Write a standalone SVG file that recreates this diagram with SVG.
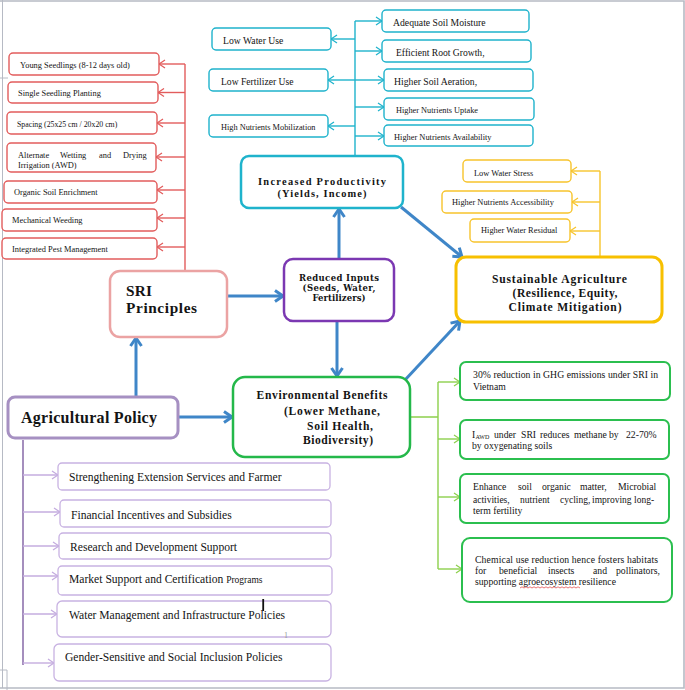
<svg xmlns="http://www.w3.org/2000/svg" width="685" height="690" viewBox="0 0 685 690">
<style>
.bg{fill:#fff}
.rb{fill:#fff;stroke:#e25c5c;stroke-width:1.4}
.cb{fill:#fff;stroke:#1fb3cc;stroke-width:1.4}
.yb{fill:#fff;stroke:#f7c42c;stroke-width:1.4}
.gb{fill:#fff;stroke:#2bbf4f;stroke-width:2}
.pb{fill:#fff;stroke:#c8b2e2;stroke-width:1.3}
.t{font-family:"Liberation Serif","Times New Roman",serif;fill:#141414}
.tb{font-family:"Liberation Serif","Times New Roman",serif;font-weight:bold;fill:#141414}
.td{font-family:"DejaVu Serif","Liberation Serif",serif;font-weight:bold;fill:#141414}
.rl{stroke:#e25c5c;stroke-width:1.4;fill:none}
.cl{stroke:#1fb3cc;stroke-width:1.4;fill:none}
.yl{stroke:#f7c42c;stroke-width:1.4;fill:none}
.gl{stroke:#8dd04c;stroke-width:1.4;fill:none}
.pl{stroke:#c4acdf;stroke-width:1.4;fill:none}
.bl{stroke:#3f86c8;stroke-width:3;fill:none}
.fr{stroke:#b6bac4;fill:none}
</style>
<defs>
<marker id="mR" markerUnits="userSpaceOnUse" viewBox="0 0 8 10" markerWidth="8" markerHeight="10" refX="7" refY="5" orient="auto"><path d="M1,1 L7,5 L1,9" fill="none" stroke="#e25c5c" stroke-width="1.3"/></marker>
<marker id="mC" markerUnits="userSpaceOnUse" viewBox="0 0 8 10" markerWidth="8" markerHeight="10" refX="7" refY="5" orient="auto"><path d="M1,1 L7,5 L1,9" fill="none" stroke="#1fb3cc" stroke-width="1.3"/></marker>
<marker id="mY" markerUnits="userSpaceOnUse" viewBox="0 0 8 10" markerWidth="8" markerHeight="10" refX="7" refY="5" orient="auto"><path d="M1,1 L7,5 L1,9" fill="none" stroke="#f7c42c" stroke-width="1.3"/></marker>
<marker id="mG" markerUnits="userSpaceOnUse" viewBox="0 0 8 10" markerWidth="8" markerHeight="10" refX="7" refY="5" orient="auto"><path d="M1,1 L7,5 L1,9" fill="none" stroke="#8dd04c" stroke-width="1.3"/></marker>
<marker id="mP" markerUnits="userSpaceOnUse" viewBox="0 0 8 10" markerWidth="8" markerHeight="10" refX="7" refY="5" orient="auto"><path d="M1,1 L7,5 L1,9" fill="none" stroke="#c4acdf" stroke-width="1.3"/></marker>
<marker id="mB" markerUnits="userSpaceOnUse" viewBox="0 0 12 14" markerWidth="12" markerHeight="14" refX="10" refY="7" orient="auto"><path d="M2,1.5 L10,7 L2,12.5" fill="none" stroke="#3f86c8" stroke-width="3"/></marker>
</defs>
<rect class="bg" x="0" y="0" width="685" height="690"/>
<g id="page-frame">
<path class="fr" stroke-width="1.6" d="M0,1 H684 V688 H0"/>
<path class="fr" stroke-width="1" d="M2.5,0 V688 M0,78 H8 M0,670 H7 V690"/>
</g>

<g id="connectors">
<!-- red SRI items -->
<path class="rl" d="M185,64 V271"/>
<line class="rl" x1="185" y1="64" x2="159" y2="64" marker-end="url(#mR)"/>
<line class="rl" x1="185" y1="92.5" x2="158" y2="92.5" marker-end="url(#mR)"/>
<line class="rl" x1="185" y1="123" x2="157" y2="123" marker-end="url(#mR)"/>
<line class="rl" x1="185" y1="157" x2="156" y2="157" marker-end="url(#mR)"/>
<line class="rl" x1="185" y1="190" x2="157" y2="190" marker-end="url(#mR)"/>
<line class="rl" x1="185" y1="218" x2="157" y2="218" marker-end="url(#mR)"/>
<line class="rl" x1="185" y1="247" x2="157" y2="247" marker-end="url(#mR)"/>
<!-- cyan productivity items -->
<path class="cl" d="M355,21 V156"/>
<line class="cl" x1="355" y1="21" x2="382" y2="21" marker-end="url(#mC)"/>
<line class="cl" x1="355" y1="51" x2="382" y2="51" marker-end="url(#mC)"/>
<line class="cl" x1="355" y1="80" x2="384" y2="80" marker-end="url(#mC)"/>
<line class="cl" x1="355" y1="107" x2="384" y2="107" marker-end="url(#mC)"/>
<line class="cl" x1="355" y1="136" x2="384" y2="136" marker-end="url(#mC)"/>
<line class="cl" x1="355" y1="39" x2="331" y2="39" marker-end="url(#mC)"/>
<line class="cl" x1="355" y1="80" x2="328" y2="80" marker-end="url(#mC)"/>
<line class="cl" x1="355" y1="126" x2="328" y2="126" marker-end="url(#mC)"/>
<!-- yellow sustainable items -->
<path class="yl" d="M600,171 V257"/>
<line class="yl" x1="600" y1="171" x2="571" y2="171" marker-end="url(#mY)"/>
<line class="yl" x1="600" y1="202" x2="572" y2="202" marker-end="url(#mY)"/>
<line class="yl" x1="600" y1="231" x2="570" y2="231" marker-end="url(#mY)"/>
<!-- green environmental items -->
<path class="gl" d="M411,417 H438 M438,382 V569"/>
<line class="gl" x1="438" y1="382" x2="460" y2="382" marker-end="url(#mG)"/>
<line class="gl" x1="438" y1="439" x2="460" y2="439" marker-end="url(#mG)"/>
<line class="gl" x1="438" y1="497" x2="460" y2="497" marker-end="url(#mG)"/>
<line class="gl" x1="438" y1="569" x2="462" y2="569" marker-end="url(#mG)"/>
<!-- purple policy items -->
<path d="M23,440 V665" stroke="#8e72ad" stroke-width="1.6" fill="none"/>
<line class="pl" x1="23" y1="475" x2="58" y2="475" marker-end="url(#mP)"/>
<line class="pl" x1="23" y1="512" x2="60" y2="512" marker-end="url(#mP)"/>
<line class="pl" x1="23" y1="546" x2="59" y2="546" marker-end="url(#mP)"/>
<line class="pl" x1="23" y1="576" x2="58" y2="576" marker-end="url(#mP)"/>
<line class="pl" x1="23" y1="614" x2="57" y2="614" marker-end="url(#mP)"/>
<line class="pl" x1="23" y1="663" x2="54" y2="663" marker-end="url(#mP)"/>
<!-- blue main flows -->
<line class="bl" x1="227" y1="296" x2="283" y2="296" marker-end="url(#mB)"/>
<line class="bl" x1="339" y1="259" x2="339" y2="209" marker-end="url(#mB)"/>
<line class="bl" x1="337" y1="321" x2="337" y2="376" marker-end="url(#mB)"/>
<line class="bl" x1="401" y1="207" x2="462" y2="257" marker-end="url(#mB)"/>
<line class="bl" x1="405" y1="380" x2="460" y2="321" marker-end="url(#mB)"/>
<line class="bl" x1="136" y1="397" x2="136" y2="338" marker-end="url(#mB)"/>
<line class="bl" x1="178" y1="417" x2="232" y2="417" marker-end="url(#mB)"/>
</g>

<g id="sri-young-seedlings"><rect class="rb" x="9" y="53" width="150" height="22" rx="4"/><text class="t" x="20" y="67.5" font-size="8.4">Young Seedlings (8-12 days old)</text></g>
<g id="sri-single-seedling"><rect class="rb" x="8" y="82" width="150" height="21" rx="4"/><text class="t" x="18" y="96" font-size="8.4">Single Seedling Planting</text></g>
<g id="sri-spacing"><rect class="rb" x="7" y="112" width="150" height="22" rx="4"/><text class="t" x="17" y="126.5" font-size="7.8">Spacing (25x25 cm / 20x20 cm)</text></g>
<g id="sri-awd"><rect class="rb" x="7" y="143" width="149" height="29" rx="4"/><text class="t" y="158" font-size="8.4"><tspan x="18">Alternate</tspan><tspan x="60">Wetting</tspan><tspan x="99">and</tspan><tspan x="123">Drying</tspan></text><text class="t" x="18" y="168" font-size="8.4">Irrigation (AWD)</text></g>
<g id="sri-organic"><rect class="rb" x="4" y="181" width="153" height="22" rx="4"/><text class="t" x="14" y="195" font-size="8.4">Organic Soil Enrichment</text></g>
<g id="sri-weeding"><rect class="rb" x="2" y="209" width="155" height="22" rx="4"/><text class="t" x="12" y="223" font-size="8.4">Mechanical Weeding</text></g>
<g id="sri-ipm"><rect class="rb" x="2" y="238" width="155" height="21" rx="4"/><text class="t" x="12" y="251.5" font-size="8.4">Integrated Pest Management</text></g>

<g id="sri-principles"><rect x="110" y="271" width="117" height="66" rx="10" fill="#fff" stroke="#eba3a3" stroke-width="2.5"/><text class="tb" x="126" y="296.3" font-size="15.3" textLength="26" lengthAdjust="spacing">SRI</text><text class="tb" x="126" y="313" font-size="15.3" textLength="71" lengthAdjust="spacing">Principles</text></g>

<g id="low-water-use"><rect class="cb" x="212" y="28" width="119" height="22" rx="4"/><text class="t" x="223" y="44" font-size="9.7">Low Water Use</text></g>
<g id="low-fertilizer-use"><rect class="cb" x="209" y="69" width="119" height="22" rx="4"/><text class="t" x="221" y="84.5" font-size="9.6">Low Fertilizer Use</text></g>
<g id="high-nutrients-mobilization"><rect class="cb" x="209" y="115" width="119" height="22" rx="4"/><text class="t" x="221" y="130" font-size="8.3">High Nutrients Mobilization</text></g>
<g id="adequate-soil-moisture"><rect class="cb" x="382" y="10" width="147" height="22" rx="4"/><text class="t" x="393" y="26" font-size="9.7">Adequate Soil Moisture</text></g>
<g id="efficient-root-growth"><rect class="cb" x="382" y="40" width="149" height="22" rx="4"/><text class="t" x="396" y="56" font-size="9.6">Efficient Root Growth,</text></g>
<g id="higher-soil-aeration"><rect class="cb" x="384" y="69" width="149" height="22" rx="4"/><text class="t" x="394" y="84.5" font-size="9.7">Higher Soil Aeration,</text></g>
<g id="higher-nutrients-uptake"><rect class="cb" x="384" y="98" width="150" height="22" rx="4"/><text class="t" x="396" y="112.5" font-size="8.3">Higher Nutrients Uptake</text></g>
<g id="higher-nutrients-availability"><rect class="cb" x="384" y="125" width="149" height="21" rx="4"/><text class="t" x="394" y="139.5" font-size="8.4">Higher Nutrients Availability</text></g>

<g id="increased-productivity"><rect x="241" y="156" width="162" height="52" rx="8" fill="#fff" stroke="#1fb3cc" stroke-width="2.5"/><text class="tb" x="322" y="185.2" font-size="10.4" text-anchor="middle" textLength="128" lengthAdjust="spacing">Increased Productivity</text><text class="tb" x="322" y="196.8" font-size="10.4" text-anchor="middle" textLength="89" lengthAdjust="spacing">(Yields, Income)</text></g>

<g id="reduced-inputs"><rect x="284" y="259" width="110" height="62" rx="9" fill="#fff" stroke="#7b38b2" stroke-width="2.5"/><text class="td" x="339" y="280.5" font-size="8.5" text-anchor="middle" textLength="80" lengthAdjust="spacing">Reduced Inputs</text><text class="td" x="339" y="290.6" font-size="8.5" text-anchor="middle" textLength="73" lengthAdjust="spacing">(Seeds, Water,</text><text class="td" x="339" y="300.7" font-size="8.5" text-anchor="middle" textLength="53" lengthAdjust="spacing">Fertilizers)</text></g>

<g id="low-water-stress"><rect class="yb" x="463" y="160" width="108" height="22" rx="4"/><text class="t" x="474" y="176" font-size="8.4">Low Water Stress</text></g>
<g id="higher-nutrients-accessibility"><rect class="yb" x="442" y="191" width="130" height="22" rx="4"/><text class="t" x="452" y="205" font-size="8.4">Higher Nutrients Accessibility</text></g>
<g id="higher-water-residual"><rect class="yb" x="470" y="219" width="100" height="23" rx="4"/><text class="t" x="481" y="233" font-size="8.4">Higher Water Residual</text></g>

<g id="sustainable-agriculture"><rect x="456" y="257" width="206" height="65" rx="10" fill="#fff" stroke="#f7c000" stroke-width="3"/><text class="tb" x="559.5" y="282.7" font-size="11.6" text-anchor="middle" textLength="135" lengthAdjust="spacing">Sustainable Agriculture</text><text class="tb" x="565" y="296.7" font-size="11.6" text-anchor="middle" textLength="105" lengthAdjust="spacing">(Resilience, Equity,</text><text class="tb" x="565" y="311" font-size="11.6" text-anchor="middle" textLength="113" lengthAdjust="spacing">Climate Mitigation)</text></g>

<g id="environmental-benefits"><rect x="233" y="377" width="177" height="80" rx="12" fill="#fff" stroke="#24b84a" stroke-width="2.5"/><text class="tb" x="322" y="399" font-size="11.6" text-anchor="middle" textLength="131" lengthAdjust="spacing">Environmental Benefits</text><text class="tb" x="332" y="414.5" font-size="11.6" text-anchor="middle" textLength="96" lengthAdjust="spacing">(Lower Methane,</text><text class="tb" x="340" y="430" font-size="11.6" text-anchor="middle" textLength="66" lengthAdjust="spacing">Soil Health,</text><text class="tb" x="338" y="444" font-size="11.6" text-anchor="middle" textLength="70" lengthAdjust="spacing">Biodiversity)</text></g>

<g id="agricultural-policy"><rect x="8" y="397" width="170" height="41" rx="7" fill="#fff" stroke="#a690c2" stroke-width="3"/><text class="tb" x="21" y="423" font-size="16" textLength="136" lengthAdjust="spacing">Agricultural Policy</text></g>

<g id="ghg-reduction"><rect class="gb" x="460" y="362" width="210" height="38" rx="6"/><text class="t" x="473" y="378" font-size="9.7" textLength="185" lengthAdjust="spacing">30% reduction in GHG emissions under SRI in</text><text class="t" x="473" y="389.5" font-size="9.7">Vietnam</text></g>
<g id="awd-methane"><rect class="gb" x="460" y="420" width="209" height="39" rx="6"/><text class="t" y="437.5" font-size="9.7"><tspan x="472">I</tspan><tspan x="475.5" dy="1.5" font-size="6">AWD</tspan><tspan x="494" dy="-1.5">under</tspan><tspan x="521">SRI</tspan><tspan x="540">reduces</tspan><tspan x="574">methane</tspan><tspan x="609">by</tspan><tspan x="626">22-70%</tspan></text><text class="t" x="472" y="449" font-size="9.7">by oxygenating soils</text></g>
<g id="soil-organic-matter"><rect class="gb" x="460" y="474" width="209" height="49" rx="6"/><text class="t" y="490" font-size="9.7"><tspan x="473">Enhance</tspan><tspan x="518">soil</tspan><tspan x="542">organic</tspan><tspan x="580">matter,</tspan><tspan x="618">Microbial</tspan></text><text class="t" y="502.5" font-size="9.5"><tspan x="473">activities,</tspan><tspan x="520">nutrient</tspan><tspan x="560">cycling,</tspan><tspan x="592">improving</tspan><tspan x="634">long-</tspan></text><text class="t" x="473" y="514" font-size="9.7">term fertility</text></g>
<g id="chemical-reduction"><rect class="gb" x="462" y="538" width="210" height="64" rx="8"/><text class="t" x="475" y="563" font-size="9.7" textLength="183" lengthAdjust="spacing">Chemical use reduction hence fosters habitats</text><text class="t" y="574" font-size="9.7"><tspan x="475">for</tspan><tspan x="499">beneficial</tspan><tspan x="548">insects</tspan><tspan x="593">and</tspan><tspan x="616">pollinators,</tspan></text><text class="t" x="475" y="585" font-size="9.7">supporting agroecosystem resilience</text><path d="M520,588 l2,-1.2 l2,1.2 l2,-1.2 l2,1.2 l2,-1.2 l2,1.2 l2,-1.2 l2,1.2 l2,-1.2 l2,1.2 l2,-1.2 l2,1.2 l2,-1.2 l2,1.2 l2,-1.2 l2,1.2 l2,-1.2 l2,1.2 l2,-1.2 l2,1.2 l2,-1.2 l2,1.2 l2,-1.2 l2,1.2 l2,-1.2 l2,1.2 l2,-1.2 l2,1.2 l2,-1.2 l2,1.2" fill="none" stroke="#e03a3a" stroke-width="0.7"/></g>

<g id="extension-services"><rect class="pb" x="58" y="463" width="272" height="27" rx="4"/><text class="t" x="69" y="481" font-size="11.6">Strengthening Extension Services and Farmer</text></g>
<g id="financial-incentives"><rect class="pb" x="60" y="500" width="271" height="27" rx="4"/><text class="t" x="71" y="518.5" font-size="11.6">Financial Incentives and Subsidies</text></g>
<g id="research-development"><rect class="pb" x="59" y="533" width="272" height="26" rx="4"/><text class="t" x="70" y="550.5" font-size="11.6">Research and Development Support</text></g>
<g id="market-support"><rect class="pb" x="58" y="566" width="274" height="29" rx="4"/><text class="t" x="69" y="583" font-size="11.6">Market Support and Certification <tspan font-size="9.5">Programs</tspan></text></g>
<g id="water-management"><rect class="pb" x="57" y="601" width="274" height="36" rx="5"/><text class="t" x="69" y="619" font-size="11.6">Water Management and Infrastructure Policies</text><rect x="262.3" y="599" width="1.8" height="12" fill="#111"/><text class="t" x="284" y="638" font-size="8" style="fill:#9a9a9a">1</text></g>
<g id="gender-inclusion"><rect class="pb" x="54" y="644" width="277" height="37" rx="5"/><text class="t" x="65" y="661" font-size="11.6">Gender-Sensitive and Social Inclusion Policies</text></g>
</svg>
